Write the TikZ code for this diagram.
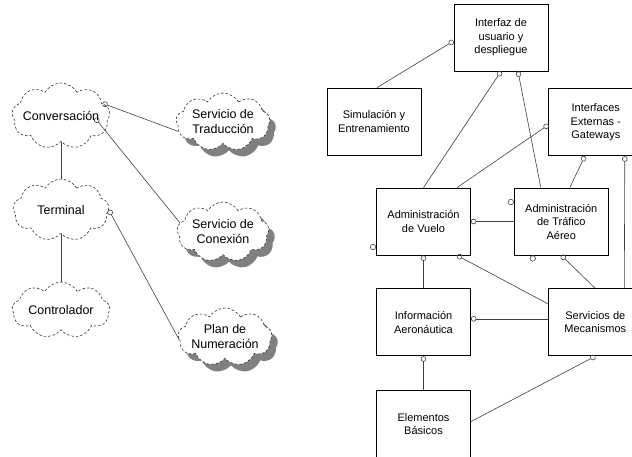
\documentclass[tikz,border=0pt]{standalone}
\usepackage{fontspec}
\setmainfont{Liberation Sans}
\usetikzlibrary{positioning,shapes.symbols,shadows,arrows.meta}

\begin{document}
\begin{tikzpicture}[
    x=1pt,y=-1pt,
    font=\fontsize{11}{13.5}\selectfont,
    subsys/.style={rectangle,draw=black,line width=0.8pt,minimum width=94pt,minimum height=67pt,align=center,fill=white,inner sep=2pt},
    cat/.style={cloud,cloud puffs=9,cloud puff arc=120,cloud ignores aspect,draw=black!80,dash pattern=on 2.5pt off 2pt,line width=0.6pt,fill=white,align=center,inner sep=-6pt,font=\fontsize{12.5}{15}\selectfont},
    shade/.style={general shadow={fill=black!50,shadow xshift=6pt,shadow yshift=-7pt}},
    link/.style={draw=black!75,line width=0.6pt},
    lolli/.style={link,-{Circle[open,length=5.5pt,width=5.5pt]}},
    port/.style={circle,draw=black!75,line width=0.6pt,fill=white,inner sep=0pt,minimum size=5.5pt}
  ]
  \useasboundingbox (0,0) rectangle (632,456);

  % categories
  \node[cat,minimum width=98pt,minimum height=66pt] (conv) at (61,116) {Conversación};
  \node[cat,minimum width=96pt,minimum height=62pt,below=37pt of conv] (term) {Terminal};
  \node[cat,minimum width=98pt,minimum height=56pt,below=48pt of term] (ctrl) {Controlador};
  \node[cat,shade,minimum width=94pt,minimum height=58pt] (trad) at (223,122) {Servicio de\\Traducción};
  \node[cat,shade,minimum width=92pt,minimum height=60pt] (conx) at (223,232) {Servicio de\\Conexión};
  \node[cat,shade,minimum width=94pt,minimum height=58pt] (plan) at (225,337) {Plan de\\Numeración};

  % subsystems
  \node[subsys] (ui) at (501,37.5) {Interfaz de\\usuario y\\despliegue};
  \node[subsys] (sim) at (374,121.5) {Simulación y\\Entrenamiento};
  \node[subsys,below right=17pt and 0pt of ui] (ext) {Interfaces\\Externas -\\Gateways};
  \node[subsys] (av) at (423.5,221.5) {Administración\\de Vuelo};
  \node[subsys,right=43pt of av] (at) {Administración\\de Tráfico\\Aéreo};
  \node[subsys,below=33pt of av] (ia) {Información\\Aeronáutica};
  \node[subsys,right=77pt of ia] (sm) {Servicios de\\Mecanismos};
  \node[subsys,below=34pt of ia] (eb) {Elementos\\Básicos};

  \node[port,anchor=east] (atp) at ([yshift=19.5pt]at.west) {};
  \node[port,anchor=east] (avp) at ([yshift=-25.5pt]av.west) {};
  \node[port,anchor=north] (atq) at ([xshift=-28.5pt]at.south) {};

  % Relations
  \draw[lolli] (trad.192) -- (conv.17);
  \draw[lolli] (conx.168) -- ([shift={(34,2)}]conv.center);
  \draw[link] (conv.south) -- (term.north);
  \draw[link] (term.south) -- (ctrl.north);
  \draw[lolli] (plan.184) -- (term.east);

  \draw[lolli] ([xshift=3pt]sim.north) -- ([yshift=-3.5pt]ui.west);
  \draw[lolli] (av.north) -- (ui.south);
  \draw[lolli] ([xshift=-20.5pt]at.north) -- ([xshift=17pt]ui.south);
  \draw[lolli] ([xshift=33.5pt]av.north) -- ([yshift=-2.5pt]ext.west);
  \draw[lolli] ([xshift=8.5pt]at.north) -- ([xshift=-11pt]ext.south);
  \draw[lolli] ([xshift=29pt]sm.north) -- ([xshift=29pt]ext.south);
  \draw[lolli] (at.west) -- (av.east);
  \draw[lolli] (ia.north) -- (av.south);
  \draw[lolli] ([yshift=18.5pt]sm.west) -- ([xshift=33.5pt]av.south);
  \draw[lolli] (sm.north) -- (at.south);
  \draw[lolli] ([yshift=3.5pt]sm.west) -- ([yshift=3.5pt]ia.east);
  \draw[lolli] (eb.north) -- (ia.south);
  \draw[lolli] ([yshift=2.5pt]eb.east) -- (sm.south);
\end{tikzpicture}
\end{document}
